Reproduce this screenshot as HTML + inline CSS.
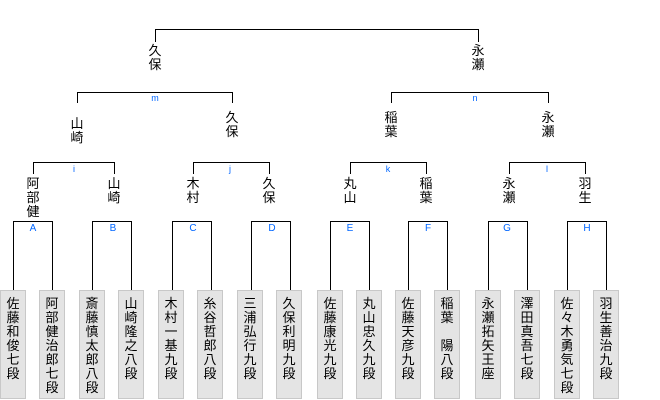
<!DOCTYPE html>
<html><head><meta charset="utf-8"><style>
body{margin:0;width:660px;height:400px;background:#fff;position:relative;overflow:hidden;font-family:"Liberation Sans","Noto Sans CJK JP",sans-serif;}
.l{position:absolute;background:#000;}
.b{position:absolute;top:290px;width:26px;height:109px;background:#e4e4e4;border:1px solid #c8c8c8;font-size:13px;line-height:14px;text-align:center;padding-top:6px;box-sizing:border-box;}
.n{position:absolute;width:30px;font-size:13px;line-height:14px;text-align:center;}
.t{position:absolute;font-size:9px;color:#0066ff;width:20px;text-align:center;}
</style></head><body>
<svg width="660" height="400" style="position:absolute;left:0;top:0" shape-rendering="crispEdges">
<g stroke="#000" stroke-width="1.3" fill="none">
<path d="M155.5 42V29.5H478.5V42"/>
<path d="M77.5 103V92.5H232.5V103"/>
<path d="M391.5 103V92.5H548.5V103"/>
<path d="M33.5 174V162.5H114.5V174"/>
<path d="M193.5 174V162.5H269.5V174"/>
<path d="M350.5 174V162.5H426.5V174"/>
<path d="M509.5 174V162.5H585.5V174"/>
<path d="M13.5 290V221.5H52.5V290"/>
<path d="M92.5 290V221.5H131.5V290"/>
<path d="M172.5 290V221.5H211.5V290"/>
<path d="M251.5 290V221.5H290.5V290"/>
<path d="M330.5 290V221.5H369.5V290"/>
<path d="M408.5 290V221.5H447.5V290"/>
<path d="M488.5 290V221.5H527.5V290"/>
<path d="M567.5 290V221.5H606.5V290"/>
</g></svg>
<div class="n" style="left:140px;top:44px">久<br>保</div>
<div class="n" style="left:463px;top:44px">永<br>瀬</div>
<div class="t" style="left:145px;top:93px">m</div>
<div class="t" style="left:465px;top:93px">n</div>
<div class="n" style="left:62px;top:117px">山<br>崎</div>
<div class="n" style="left:217px;top:111px">久<br>保</div>
<div class="n" style="left:376px;top:111px">稲<br>葉</div>
<div class="n" style="left:533px;top:111px">永<br>瀬</div>
<div class="t" style="left:64px;top:164px">i</div>
<div class="t" style="left:220px;top:164px">j</div>
<div class="t" style="left:378px;top:164px">k</div>
<div class="t" style="left:537px;top:164px">l</div>
<div class="n" style="left:18px;top:177px">阿<br>部<br>健</div>
<div class="n" style="left:99px;top:177px">山<br>崎</div>
<div class="n" style="left:178px;top:177px">木<br>村</div>
<div class="n" style="left:254px;top:177px">久<br>保</div>
<div class="n" style="left:335px;top:177px">丸<br>山</div>
<div class="n" style="left:411px;top:177px">稲<br>葉</div>
<div class="n" style="left:494px;top:177px">永<br>瀬</div>
<div class="n" style="left:570px;top:177px">羽<br>生</div>
<div class="t" style="left:23px;top:223px;font-size:10px">A</div>
<div class="t" style="left:103px;top:223px;font-size:10px">B</div>
<div class="t" style="left:183px;top:223px;font-size:10px">C</div>
<div class="t" style="left:262px;top:223px;font-size:10px">D</div>
<div class="t" style="left:340px;top:223px;font-size:10px">E</div>
<div class="t" style="left:418px;top:223px;font-size:10px">F</div>
<div class="t" style="left:497px;top:223px;font-size:10px">G</div>
<div class="t" style="left:577px;top:223px;font-size:10px">H</div>
<div class="b" style="left:0px">佐<br>藤<br>和<br>俊<br>七<br>段</div>
<div class="b" style="left:39px">阿<br>部<br>健<br>治<br>郎<br>七<br>段</div>
<div class="b" style="left:79px">斎<br>藤<br>慎<br>太<br>郎<br>八<br>段</div>
<div class="b" style="left:118px">山<br>崎<br>隆<br>之<br>八<br>段</div>
<div class="b" style="left:158px">木<br>村<br>一<br>基<br>九<br>段</div>
<div class="b" style="left:197px">糸<br>谷<br>哲<br>郎<br>八<br>段</div>
<div class="b" style="left:237px">三<br>浦<br>弘<br>行<br>九<br>段</div>
<div class="b" style="left:276px">久<br>保<br>利<br>明<br>九<br>段</div>
<div class="b" style="left:317px">佐<br>藤<br>康<br>光<br>九<br>段</div>
<div class="b" style="left:356px">丸<br>山<br>忠<br>久<br>九<br>段</div>
<div class="b" style="left:395px">佐<br>藤<br>天<br>彦<br>九<br>段</div>
<div class="b" style="left:434px">稲<br>葉<br>&nbsp;<br>陽<br>八<br>段</div>
<div class="b" style="left:475px">永<br>瀬<br>拓<br>矢<br>王<br>座</div>
<div class="b" style="left:514px">澤<br>田<br>真<br>吾<br>七<br>段</div>
<div class="b" style="left:554px">佐<br>々<br>木<br>勇<br>気<br>七<br>段</div>
<div class="b" style="left:593px">羽<br>生<br>善<br>治<br>九<br>段</div>
</body></html>
